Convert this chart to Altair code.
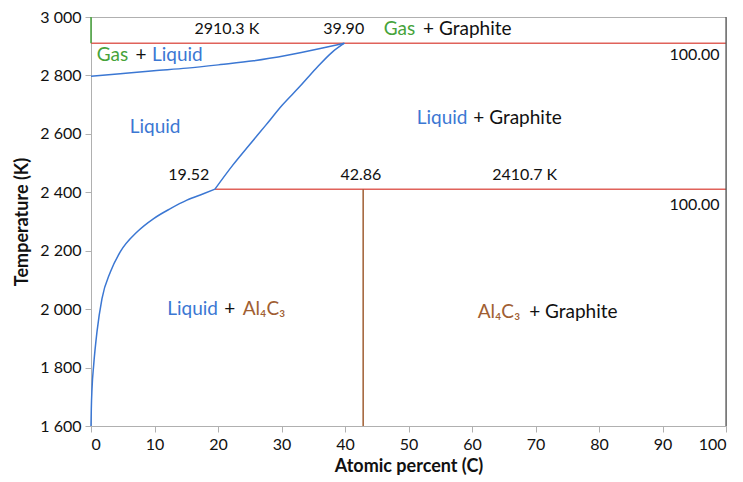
import altair as alt
import pandas as pd

FONT = "Lato"
BLUE = "#3b77d3"
GREEN = "#46a33a"
RED = "#e0625a"
BROWN = "#a05e32"
BLACK = "#111111"

# Gas + Liquid boundary
gl_x = [0.0, 4.6, 9.9, 15.1, 20.4, 25.6, 30.9, 36.1, 39.9]
gl_t = [2797, 2806, 2816, 2825, 2837, 2850, 2869, 2892, 2910.3]

# Liquidus toward graphite
lg_x = [19.52, 22.3, 24.9, 27.5, 30.1, 32.8, 35.4, 38.0, 39.9]
lg_t = [2410.7, 2492, 2561, 2629, 2698, 2760, 2823, 2880, 2910.3]

# Liquidus toward Al4C3
la_x = [0.0, 0.05, 0.16, 0.42, 0.94, 1.73, 3.05, 4.6, 7.24, 9.87, 12.5, 15.1, 17.7, 19.52]
la_t = [1600, 1660, 1728, 1808, 1922, 2036, 2127, 2196, 2264, 2310, 2344, 2373, 2395, 2410.7]

# Invariant lines
h_lines = pd.DataFrame({"x": [0.0, 19.52], "x2": [100.0, 100.0], "t": [2910.3, 2410.7]})
v_line = pd.DataFrame({"x": [42.86], "t": [1600], "t2": [2410.7]})
gas_line = pd.DataFrame({"x": [0.0], "t": [2910.3], "t2": [3000]})
right_frame = pd.DataFrame({"x": [100.0], "t": [1600], "t2": [3000]})

# Numeric labels
lab_text = ["2910.3 K", "39.90", "100.00", "19.52", "42.86", "2410.7 K", "100.00"]
lab_x = [21.4, 39.8, 99.0, 15.4, 42.5, 68.3, 99.0]
lab_t = [2959, 2959, 2871, 2459, 2459, 2460, 2356]
lab_align = ["center", "center", "right", "center", "center", "center", "right"]

# Region labels (pieces coloured separately)
reg_text = ["Gas", "+ Graphite", "Gas", "+", "Liquid", "Liquid", "Liquid", "+ Graphite",
            "Liquid", "+", "Al₄C₃", "Al₄C₃", "+ Graphite"]
reg_x = [46.1, 52.3, 0.9, 7.0, 9.6, 6.1, 51.3, 60.2,
         12.0, 21.0, 23.9, 60.9, 69.0]
reg_t = [2960, 2960, 2870, 2870, 2870, 2623, 2655, 2655,
         2001, 2001, 2001, 1990, 1990]
reg_col = ["green", "black", "green", "black", "blue", "blue", "blue", "black",
           "blue", "black", "brown", "brown", "black"]

xs = alt.Scale(domain=[0, 100], nice=False)
ys = alt.Scale(domain=[1600, 3000], nice=False)

def curve(xv, tv):
    df = pd.DataFrame({"x": xv, "t": tv, "o": list(range(len(xv)))})
    return alt.Chart(df).mark_line(color=BLUE, strokeWidth=1.5, interpolate="monotone").encode(
        x=alt.X("x:Q", scale=xs), y=alt.Y("t:Q", scale=ys), order="o:Q")

axis_common = dict(grid=False, tickSize=6, labelFontSize=16, titleFontSize=18,
                   titleFontWeight="bold", labelFont=FONT, titleFont=FONT,
                   labelColor=BLACK, titleColor=BLACK, domainColor="#b0b0b0",
                   tickColor="#b0b0b0", labelPadding=4)

base_axes = alt.Chart(pd.DataFrame({"x": [0], "t": [1600]})).mark_point(opacity=0).encode(
    x=alt.X("x:Q", scale=xs, title="Atomic percent (C)",
            axis=alt.Axis(values=list(range(0, 101, 10)), titlePadding=5, **axis_common)),
    y=alt.Y("t:Q", scale=ys, title="Temperature (K)",
            axis=alt.Axis(values=list(range(1600, 3001, 200)), titlePadding=8,
                          labelExpr="replace(format(datum.value, ','), ',', ' ')",
                          **axis_common)),
)

hl = alt.Chart(h_lines).mark_rule(color=RED, strokeWidth=1.5).encode(
    x=alt.X("x:Q", scale=xs), x2="x2:Q", y=alt.Y("t:Q", scale=ys))
vl = alt.Chart(v_line).mark_rule(color=BROWN, strokeWidth=1.5).encode(
    x=alt.X("x:Q", scale=xs), y=alt.Y("t:Q", scale=ys), y2="t2:Q")
gl = alt.Chart(gas_line).mark_rule(color=GREEN, strokeWidth=1.5).encode(
    x=alt.X("x:Q", scale=xs), y=alt.Y("t:Q", scale=ys), y2="t2:Q")
rf = alt.Chart(right_frame).mark_rule(color="#555555", strokeWidth=1.2).encode(
    x=alt.X("x:Q", scale=xs), y=alt.Y("t:Q", scale=ys), y2="t2:Q")

labels_df = pd.DataFrame({"text": lab_text, "x": lab_x, "t": lab_t, "align": lab_align})
lab_layers = []
for al in ["center", "right"]:
    d = labels_df[labels_df["align"] == al]
    lab_layers.append(alt.Chart(d).mark_text(font=FONT, fontSize=16, color=BLACK, align=al,
                                             baseline="middle").encode(
        x=alt.X("x:Q", scale=xs), y=alt.Y("t:Q", scale=ys), text="text:N"))

reg_df = pd.DataFrame({"text": reg_text, "x": reg_x, "t": reg_t, "c": reg_col})
reg = alt.Chart(reg_df).mark_text(font=FONT, fontSize=19, align="left", baseline="middle").encode(
    x=alt.X("x:Q", scale=xs), y=alt.Y("t:Q", scale=ys), text="text:N",
    color=alt.Color("c:N", scale=alt.Scale(domain=["green", "black", "blue", "brown"],
                                           range=[GREEN, BLACK, BLUE, BROWN]), legend=None))

chart = alt.layer(
    base_axes, hl, vl, gl, rf,
    curve(gl_x, gl_t), curve(lg_x, lg_t), curve(la_x, la_t),
    *lab_layers, reg
).properties(
    width=635, height=409,
    padding={"left": 5, "top": 1, "right": 5, "bottom": 5},
).configure_view(stroke="#b0b0b0", strokeWidth=1)

chart.save("out.html", embed_options={"renderer": "svg", "actions": False})
